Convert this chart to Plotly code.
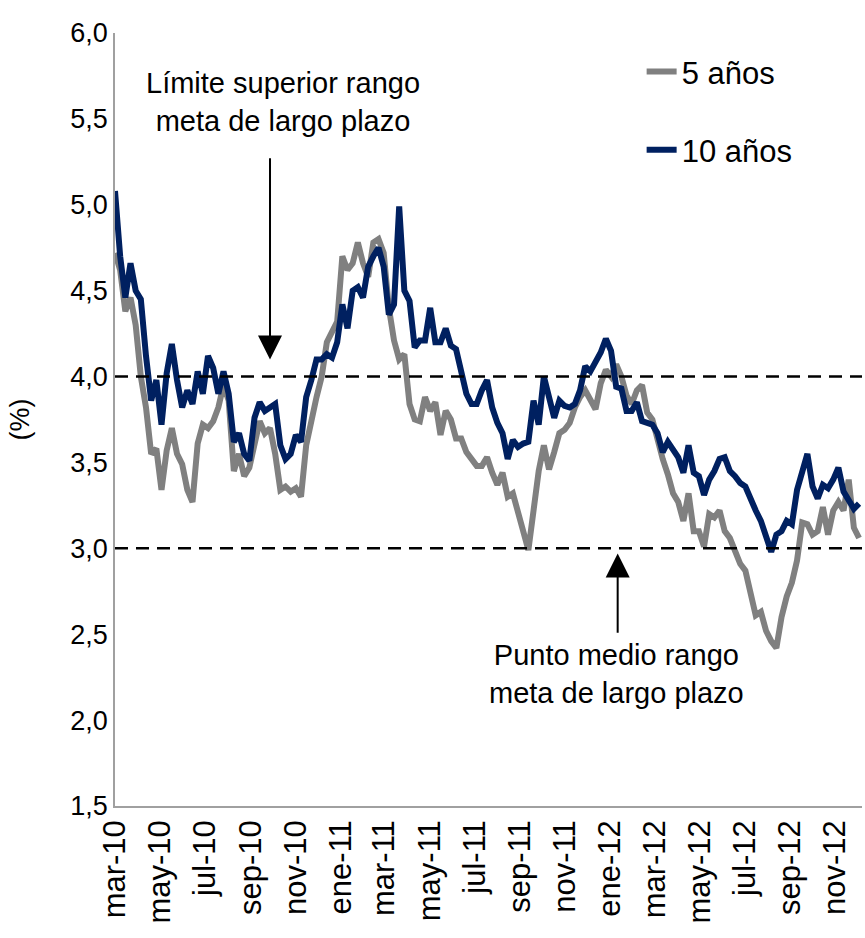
import pandas as pd
import plotly.graph_objects as go

# Weekly observations (Mar-2010 .. Dec-2012), values in %
dates = pd.date_range("2010-03-01", periods=145, freq="7D")

y5 = [4.72, 4.62, 4.38, 4.46, 4.30, 4.00, 3.82, 3.55, 3.58, 3.34,
      3.57, 3.70, 3.55, 3.49, 3.34, 3.27, 3.61, 3.72, 3.70, 3.74,
      3.82, 3.95, 3.86, 3.45, 3.55, 3.42, 3.47, 3.62, 3.74, 3.67,
      3.70, 3.55, 3.34, 3.36, 3.33, 3.35, 3.30, 3.60, 3.76, 3.88,
      4.00, 4.20, 4.26, 4.32, 4.70, 4.62, 4.66, 4.78, 4.66, 4.58,
      4.78, 4.80, 4.72, 4.40, 4.21, 4.10, 4.13, 3.84, 3.75, 3.74,
      3.88, 3.80, 3.85, 3.66, 3.80, 3.75, 3.64, 3.64, 3.56, 3.52,
      3.48, 3.48, 3.53, 3.44, 3.37, 3.44, 3.30, 3.32, 3.21, 3.10,
      2.99, 3.22, 3.45, 3.60, 3.46, 3.56, 3.67, 3.69, 3.73, 3.82,
      3.88, 3.92, 3.87, 3.81, 3.96, 4.04, 4.00, 4.07, 4.00, 3.89,
      3.84, 3.92, 3.95, 3.79, 3.75, 3.62, 3.52, 3.43, 3.32, 3.27,
      3.16, 3.32, 3.10, 3.10, 3.01, 3.20, 3.18, 3.22, 3.10, 3.06,
      2.99, 2.91, 2.87, 2.74, 2.61, 2.63, 2.52, 2.46, 2.42, 2.60,
      2.72, 2.80, 2.93, 3.15, 3.14, 3.08, 3.10, 3.24, 3.08, 3.22,
      3.27, 3.22, 3.40, 3.12, 3.06]

y10 = [5.08, 4.70, 4.46, 4.66, 4.50, 4.45, 4.12, 3.86, 3.98, 3.72,
       4.02, 4.19, 3.98, 3.82, 3.92, 3.84, 4.03, 3.90, 4.12, 4.05,
       3.90, 4.03, 3.90, 3.62, 3.67, 3.55, 3.51, 3.76, 3.85, 3.80,
       3.82, 3.84, 3.60, 3.52, 3.55, 3.66, 3.62, 3.88, 3.98, 4.10,
       4.10, 4.13, 4.11, 4.20, 4.42, 4.28, 4.50, 4.52, 4.46, 4.64,
       4.70, 4.75, 4.64, 4.36, 4.42, 4.99, 4.50, 4.44, 4.17, 4.21,
       4.21, 4.40, 4.20, 4.20, 4.28, 4.18, 4.16, 4.03, 3.90, 3.84,
       3.84, 3.92, 3.98, 3.82, 3.73, 3.67, 3.52, 3.63, 3.59, 3.61,
       3.62, 3.86, 3.72, 4.00, 3.88, 3.76, 3.86, 3.83, 3.82, 3.84,
       3.92, 4.06, 4.03, 4.08, 4.14, 4.22, 4.15, 3.94, 3.93, 3.80,
       3.80, 3.85, 3.74, 3.73, 3.72, 3.67, 3.56, 3.62, 3.57, 3.53,
       3.44, 3.60, 3.44, 3.42, 3.31, 3.40, 3.45, 3.52, 3.53, 3.45,
       3.42, 3.38, 3.36, 3.28, 3.22, 3.16, 3.08, 2.98, 3.08, 3.10,
       3.16, 3.14, 3.34, 3.45, 3.55, 3.36, 3.29, 3.37, 3.35, 3.40,
       3.47, 3.33, 3.28, 3.23, 3.26]

tick_dates = ["2010-03-01", "2010-05-01", "2010-07-01", "2010-09-01", "2010-11-01",
              "2011-01-01", "2011-03-01", "2011-05-01", "2011-07-01", "2011-09-01",
              "2011-11-01", "2012-01-01", "2012-03-01", "2012-05-01", "2012-07-01",
              "2012-09-01", "2012-11-01"]
tick_text = ["mar-10", "may-10", "jul-10", "sep-10", "nov-10", "ene-11", "mar-11",
             "may-11", "jul-11", "sep-11", "nov-11", "ene-12", "mar-12", "may-12",
             "jul-12", "sep-12", "nov-12"]

ref_lines = [4.0, 3.0]

FONT = "Liberation Sans, Arial, sans-serif"

fig = go.Figure()
fig.add_trace(go.Scatter(x=dates, y=y5, mode="lines", name="5 años",
                         line=dict(color="#808080", width=6), legend="legend",
                         showlegend=True))
fig.add_trace(go.Scatter(x=dates, y=y10, mode="lines", name="10 años",
                         line=dict(color="#002060", width=6), legend="legend2",
                         showlegend=True))

for v in ref_lines:
    fig.add_shape(type="line", xref="paper", x0=0, x1=1, yref="y", y0=v, y1=v,
                  line=dict(color="black", width=2.5, dash="13px,8px"), layer="above")

# annotation texts
fig.add_annotation(x="2010-10-14", y=5.60, xref="x", yref="y",
                   text="Límite superior rango<br>meta de largo plazo",
                   showarrow=False, font=dict(size=29, color="black", family=FONT),
                   align="center")
fig.add_annotation(x="2012-01-09", y=2.27, xref="x", yref="y",
                   text="Punto medio rango<br>meta de largo plazo",
                   showarrow=False, font=dict(size=29, color="black", family=FONT),
                   align="center")
# arrows
fig.add_annotation(x="2010-09-27", y=4.10, xref="x", yref="y",
                   ax="2010-09-27", ay=5.28, axref="x", ayref="y",
                   text="", showarrow=True, arrowhead=2, arrowsize=2.4,
                   arrowwidth=2, arrowcolor="black")
fig.add_annotation(x="2012-01-11", y=2.97, xref="x", yref="y",
                   ax="2012-01-11", ay=2.50, axref="x", ayref="y",
                   text="", showarrow=True, arrowhead=2, arrowsize=2.4,
                   arrowwidth=2, arrowcolor="black")

fig.update_layout(
    width=865, height=938, autosize=False,
    margin=dict(l=115, r=3, t=33, b=132),
    paper_bgcolor="white", plot_bgcolor="white",
    separators=",.",
    showlegend=True,
    font=dict(family=FONT, color="black"),
    legend=dict(x=0.705, y=0.9496, xanchor="left", yanchor="middle",
                bgcolor="rgba(0,0,0,0)", font=dict(size=31)),
    legend2=dict(x=0.705, y=0.8486, xanchor="left", yanchor="middle",
                 bgcolor="rgba(0,0,0,0)", font=dict(size=31)),
    xaxis=dict(range=["2010-03-01", "2012-12-07"], tickvals=tick_dates, ticktext=tick_text,
               tickangle=-90, showgrid=False, zeroline=False, showline=True,
               linecolor="#a0a0a0", linewidth=1.5, ticks="",
               tickfont=dict(size=31), automargin=False),
    yaxis=dict(range=[1.5, 6.0], dtick=0.5, tick0=1.5, tickformat=".1f",
               showgrid=False, zeroline=False, showline=True,
               linecolor="#a0a0a0", linewidth=1.5, ticks="",
               tickfont=dict(size=27), automargin=False,
               title=dict(text="(%)", font=dict(size=27), standoff=33)),
)

fig.write_html("out.html")
